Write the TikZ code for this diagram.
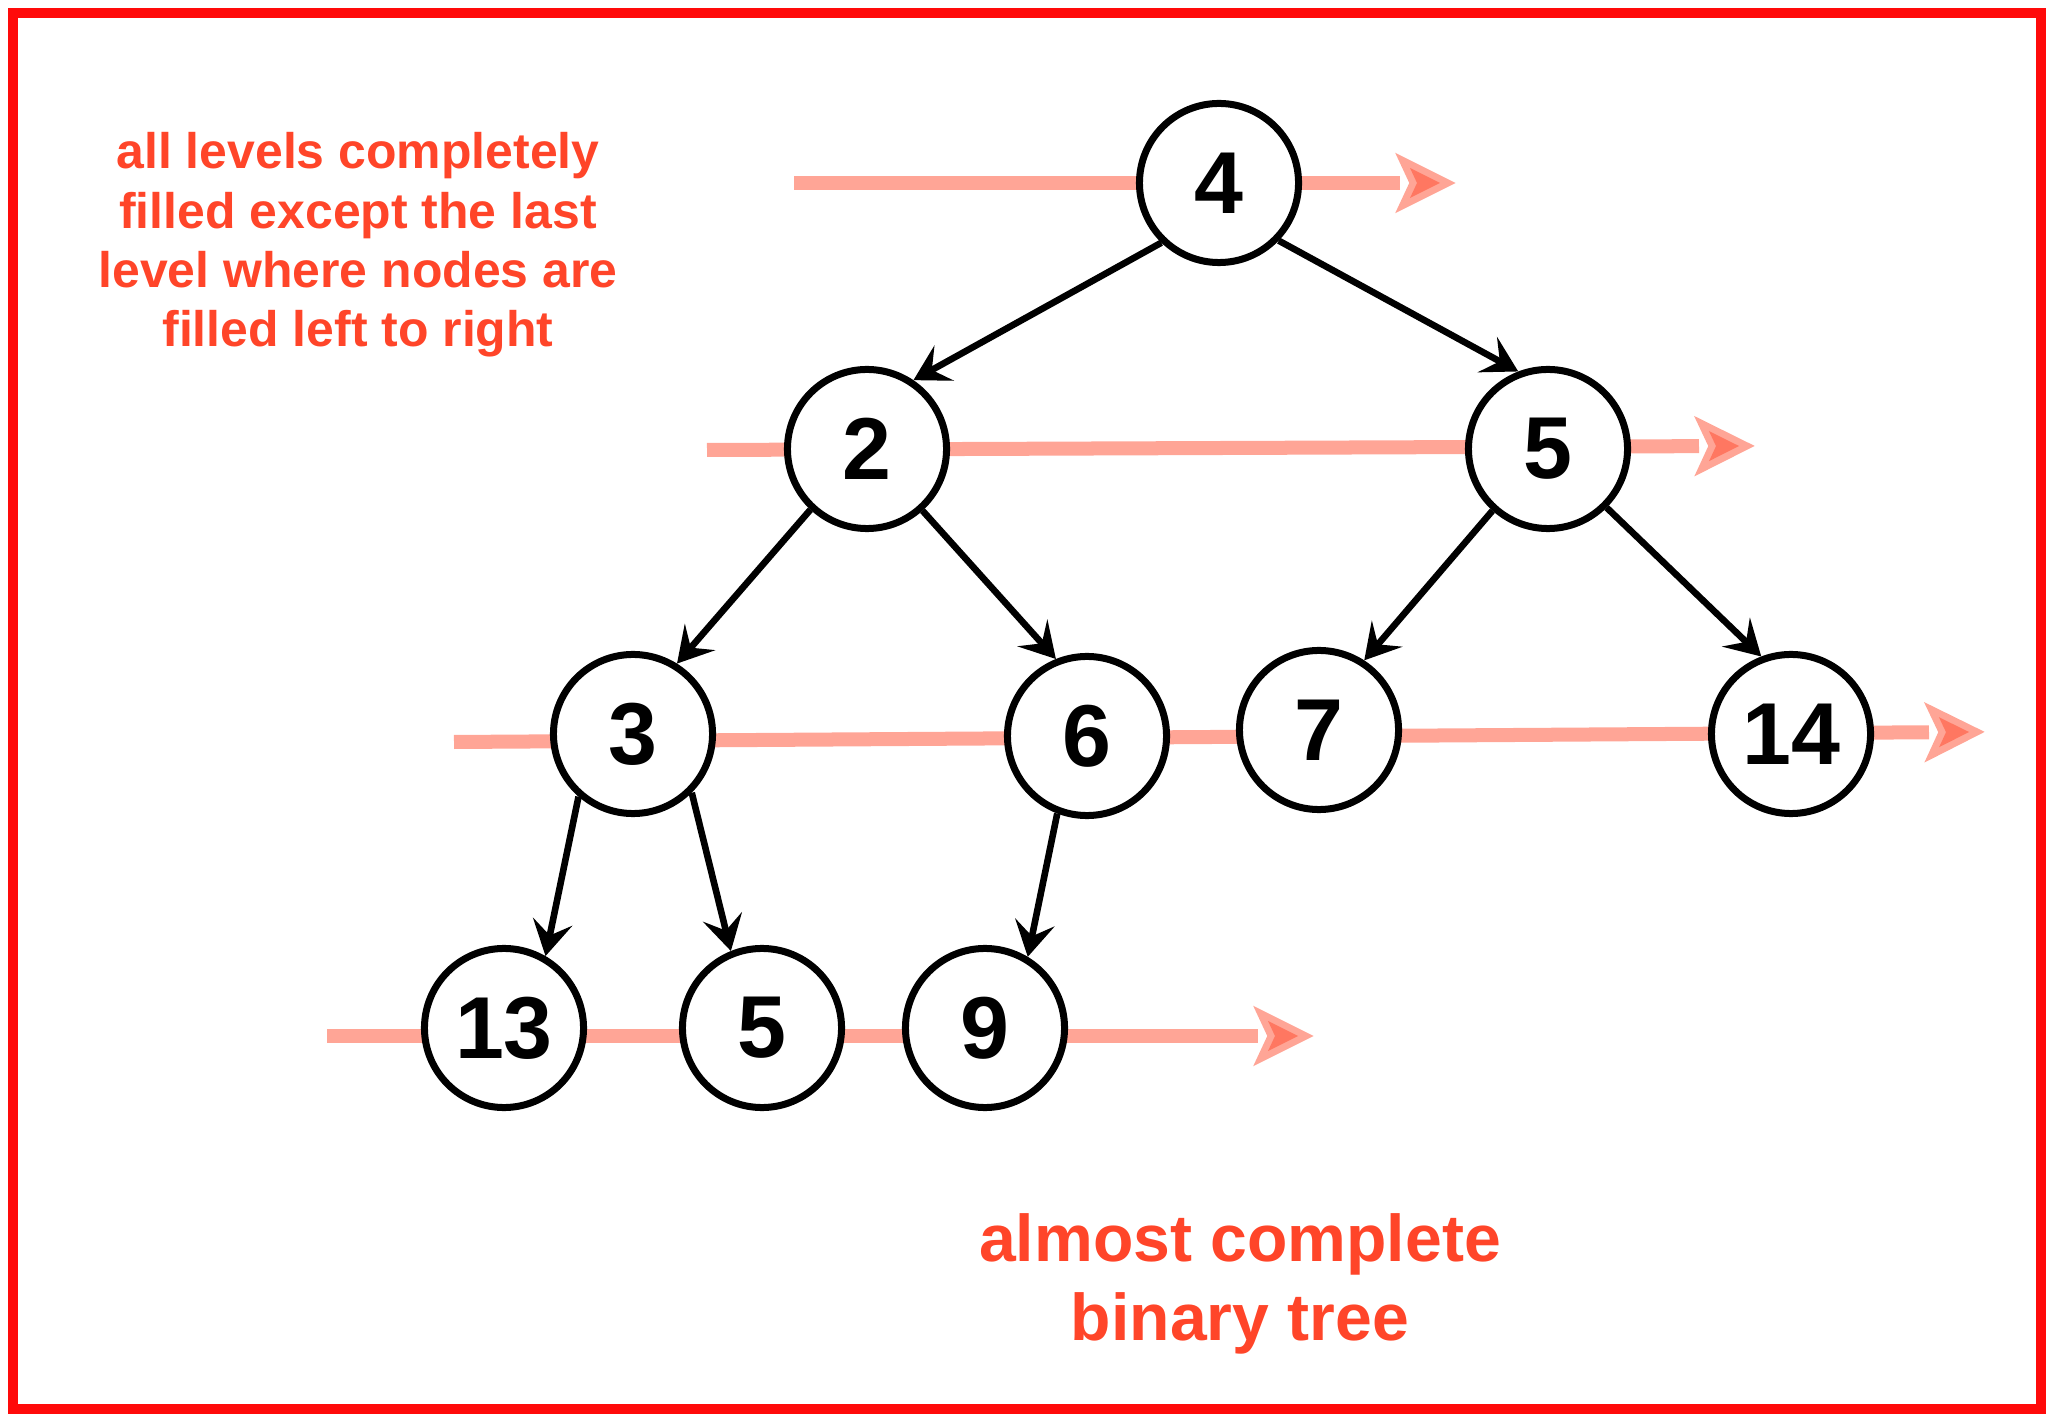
\documentclass[tikz,border=0pt]{standalone}
\usepackage{fontspec}
\setmainfont{Liberation Sans}
\usetikzlibrary{arrows.meta}
\definecolor{pk}{HTML}{FF4B2D}
\definecolor{txtred}{HTML}{FF4529}
\definecolor{framered}{HTML}{FF0A0A}
\tikzset{
  tn/.style={circle,draw=black,line width=0.07cm,fill=white,minimum size=1.59cm,inner sep=0pt,
    font=\bfseries\fontsize{25}{30}\selectfont},
  treeedge/.style={draw=black,line width=0.066cm,-{Stealth[length=0.35cm,width=0.40cm,inset=0.14cm]}},
  pkline/.style={draw=pk,opacity=0.5,line width=0.14cm,shorten >=0.40cm},
  pkhead/.style={draw=pk,fill=pk,opacity=0.5,line width=0.14cm,line join=miter},
  notesmall/.style={text=txtred,font=\bfseries\fontsize{14.2}{16.9}\selectfont,align=center},
  notebig/.style={text=txtred,font=\bfseries\fontsize{18.8}{22.4}\selectfont,align=center},
  pics/pinkhead/.style={code={\path[pkhead] (0,0) -- (-30,15) -- (-23,0) -- (-30,-15) -- cycle;}}
}
\begin{document}
\begin{tikzpicture}[x=0.01cm,y=-0.01cm]
\useasboundingbox (0,0) rectangle (2054,1422);
% level lines
\coordinate (l0s) at (794,183);  \coordinate (l0e) at (1440,183);
\coordinate (l1s) at (707,450);  \coordinate (l1e) at (1739,446);
\coordinate (l2s) at (454,742);  \coordinate (l2e) at (1969,732);
\coordinate (l3s) at (327,1036); \coordinate (l3e) at (1298,1036);
\draw[pkline] (l0s) -- (l0e);
\draw[pkline] (l1s) -- (l1e);
\draw[pkline] (l2s) -- (l2e);
\draw[pkline] (l3s) -- (l3e);
\pic at (l0e) {pinkhead};
\pic[rotate=0.22] at (l1e) {pinkhead};
\pic[rotate=0.38] at (l2e) {pinkhead};
\pic at (l3e) {pinkhead};
% nodes
\node[tn] (n4) at (1219,183) {4};
\node[tn] (n2) at (867,449) {2};
\node[tn] (n5) at (1548,449) {5};
\node[tn] (n3) at (633,734) {3};
\node[tn] (n6) at (1087,736) {6};
\node[tn] (n7) at (1319,730) {7};
\node[tn] (n14) at (1791,734) {14};
\node[tn] (n13) at (504,1028) {13};
\node[tn] (n5b) at (762,1028) {5};
\node[tn] (n9) at (985,1028) {9};
% edges
\draw[treeedge] (n4.226) -- (n2.56);
\draw[treeedge] (n4.316) -- (n5.111);
\draw[treeedge] (n2.227) -- (n3.58);
\draw[treeedge] (n2.312) -- (n6.112);
\draw[treeedge] (n5.228) -- (n7.57);
\draw[treeedge] (n5.315) -- (n14.111);
\draw[treeedge] (n3.229) -- (n13.60);
\draw[treeedge] (n3.315) -- (n5b.112);
\draw[treeedge] (n6.249) -- (n9.59);
% texts
\node[notesmall] (t1) at (358,245) {all levels completely\\filled except the last\\level where nodes are\\filled left to right};
\node[notebig] (t2) at (1240,1284) {almost complete\\binary tree};
% frame
\draw[draw=framered,line width=0.1cm] (13,13) rectangle (2041,1409);
\end{tikzpicture}
\end{document}
